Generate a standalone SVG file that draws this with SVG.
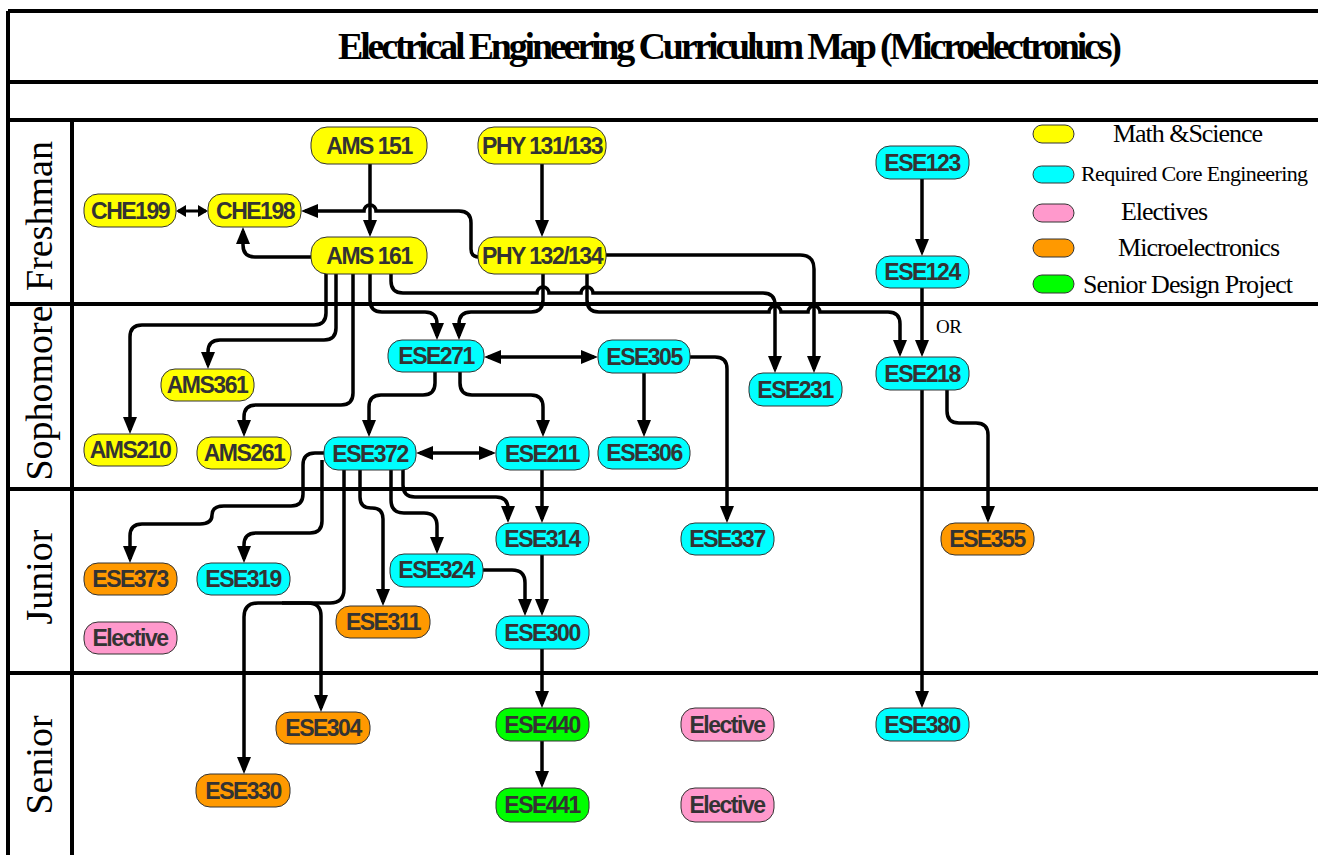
<svg xmlns="http://www.w3.org/2000/svg" width="1318" height="855" viewBox="0 0 1318 855">
<style>
.frame{stroke:#000;stroke-width:4;fill:none}
.n{stroke:#333;stroke-width:1}
.y{fill:#ffff00}.c{fill:#00ffff}.p{fill:#ff99cc}.o{fill:#ff9900}.g{fill:#00ff00}
.t{font-family:"Liberation Sans",Arial,sans-serif;font-weight:bold;font-size:23px;letter-spacing:-1.5px;fill:#333;text-anchor:middle}
.e{stroke:#000;stroke-width:3.5;fill:none;marker-end:url(#ah)}
.d{marker-start:url(#ah)}
.serif{font-family:"Liberation Serif","Times New Roman",serif;fill:#000}
.row{font-size:38px;text-anchor:middle}
.leg{font-size:26px}
</style>
<defs>
<marker id="ah" viewBox="0 0 17 14" refX="13" refY="7" markerWidth="17" markerHeight="14" markerUnits="userSpaceOnUse" orient="auto-start-reverse"><path d="M0,0 L17,7 L0,14 z" fill="#000"/></marker>
<marker id="as" viewBox="0 0 10 12" refX="8" refY="6" markerWidth="10" markerHeight="12" markerUnits="userSpaceOnUse" orient="auto-start-reverse"><path d="M0,0 L10,6 L0,12 z" fill="#000"/></marker>
</defs>
<rect width="1318" height="855" fill="#fff"/>
<g id="frame" class="frame">
<path d="M8 11 H1318 M8 11 V855 M8 82 H1318 M8 120 H1318 M8 304 H1318 M8 489 H1318 M8 673 H1318 M72 120 V855"/>
</g>
<text id="title" class="serif" x="338" y="59" font-size="38" font-weight="bold" textLength="784" lengthAdjust="spacing">Electrical Engineering Curriculum Map (Microelectronics)</text>
<g id="rows" class="serif row">
<text transform="translate(52,216) rotate(-90)">Freshman</text>
<text transform="translate(52,393) rotate(-90)">Sophomore</text>
<text transform="translate(52,577) rotate(-90)">Junior</text>
<text transform="translate(52,765) rotate(-90)">Senior</text>
</g>
<g id="legend">
<rect class="n y" x="1033" y="125" width="41" height="18" rx="9"/>
<rect class="n c" x="1033" y="166" width="41" height="17" rx="8.5"/>
<rect class="n p" x="1033" y="204" width="41" height="18" rx="9"/>
<rect class="n o" x="1033" y="239" width="41" height="18" rx="9"/>
<rect class="n g" x="1033" y="275" width="41" height="18" rx="9"/>
<text class="serif leg" x="1113" y="142" textLength="150" lengthAdjust="spacing">Math &amp;Science</text>
<text class="serif" font-size="22" x="1081" y="181" textLength="227" lengthAdjust="spacing">Required Core Engineering</text>
<text class="serif leg" x="1121" y="220" textLength="87" lengthAdjust="spacing">Electives</text>
<text class="serif leg" x="1118" y="256" textLength="162" lengthAdjust="spacing">Microelectronics</text>
<text class="serif leg" x="1083" y="293" textLength="210" lengthAdjust="spacing">Senior Design Project</text>
</g>
<g id="connectors">
<path class="e" d="M370 164 V233"/>
<path class="e" d="M542 164 V233"/>
<path class="e" d="M922 179 V252"/>
<path class="e" d="M922 288 V353"/>
<path class="e" d="M479 257 Q471 257 471 249 V223 Q471 211 459 211 H376 A6 6 0 0 0 364 211 H305"/>
<path class="e" d="M311 257 H255 Q243 257 243 245 V231"/>
<path d="M178 211 H206" stroke="#000" stroke-width="3" fill="none" marker-start="url(#as)" marker-end="url(#as)"/>
<path class="e" d="M326 262 V313 Q326 325 314 325 H142 Q130 325 130 337 V430"/>
<path class="e" d="M336 262 V328 Q336 340 324 340 H220 Q208 340 208 352 V365"/>
<path class="e" d="M353 262 V393 Q353 405 341 405 H256 Q244 405 244 417 V433"/>
<path class="e" d="M370 262 V300 Q370 312 382 312 H425 Q437 312 437 324 V336"/>
<path class="e" d="M543 262 V300 Q543 312 531 312 H471 Q459 312 459 324 V336"/>
<path class="e" d="M587 262 V300 Q587 312 599 312 H769 A6 6 0 0 1 781 312 H808 A6 6 0 0 1 820 312 H888 Q900 312 900 324 V353"/>
<path class="e" d="M391 262 V281 Q391 293 403 293 H537 A6 6 0 0 1 549 293 H581 A6 6 0 0 1 593 293 H763 Q775 293 775 305 V369"/>
<path class="e" d="M600 255 H800 Q814 255 814 269 V369"/>
<path class="e d" d="M488 357 H594"/>
<path class="e" d="M644 372 V433"/>
<path class="e" d="M690 357 H715 Q727 357 727 369 V519"/>
<path class="e" d="M435 372 V383 Q435 395 423 395 H381 Q369 395 369 407 V433"/>
<path class="e" d="M460 372 V383 Q460 395 472 395 H531 Q543 395 543 407 V433"/>
<path class="e d" d="M420 453 H492"/>
<path class="e" d="M922 390 V704"/>
<path class="e" d="M947 385 V411 Q947 423 959 423 H976 Q988 423 988 435 V519"/>
<path class="e" d="M542 470 V519"/>
<path class="e" d="M542 555 V612"/>
<path class="e" d="M483 570 H512 Q525 570 525 583 V612"/>
<path class="e" d="M542 649 V704"/>
<path class="e" d="M542 741 V784"/>
<path class="e" d="M330 453 H315 Q303 453 303 465 V494 Q303 506 291 506 H224 Q212 506 212 515 Q212 524 200 524 H142 Q130 524 130 536 V559"/>
<path class="e" d="M322 460 V521 Q322 533 310 533 H256 Q244 533 244 545 V559"/>
<path class="e" d="M344 460 V589 Q344 603 330 603 H258 Q244 603 244 617 V770"/>
<path class="e" d="M282 603 H308 Q321 603 321 616 V708"/>
<path class="e" d="M360 460 V497 Q360 508 371 508 H372 Q383 508 383 519 V602"/>
<path class="e" d="M391 460 V500 Q391 513 404 513 H424 Q437 513 437 526 V550"/>
<path class="e" d="M403 460 V485 Q403 497 415 497 H496 Q508 497 508 509 V519"/>
</g>
<text id="or" class="serif" x="936" y="333" font-size="19" textLength="26" lengthAdjust="spacing">OR</text>
<g id="AMS151"><rect class="n y" x="311" y="127" width="116" height="37" rx="16"/><text class="t" x="369" y="154">AMS 151</text></g>
<g id="PHY131"><rect class="n y" x="478" y="127" width="128" height="37" rx="16"/><text class="t" x="542" y="154">PHY 131/133</text></g>
<g id="CHE199"><rect class="n y" x="84" y="194" width="92" height="33" rx="14"/><text class="t" x="130" y="219">CHE199</text></g>
<g id="CHE198"><rect class="n y" x="208" y="194" width="93" height="33" rx="14"/><text class="t" x="255" y="219">CHE198</text></g>
<g id="AMS161"><rect class="n y" x="311" y="237" width="116" height="37" rx="16"/><text class="t" x="369" y="264">AMS 161</text></g>
<g id="PHY132"><rect class="n y" x="478" y="237" width="128" height="37" rx="16"/><text class="t" x="542" y="264">PHY 132/134</text></g>
<g id="ESE123"><rect class="n c" x="876" y="146" width="93" height="33" rx="14"/><text class="t" x="922" y="171">ESE123</text></g>
<g id="ESE124"><rect class="n c" x="876" y="256" width="93" height="32" rx="14"/><text class="t" x="922" y="280">ESE124</text></g>
<g id="ESE271"><rect class="n c" x="388" y="340" width="96" height="32" rx="14"/><text class="t" x="436" y="364">ESE271</text></g>
<g id="ESE305"><rect class="n c" x="598" y="340" width="92" height="33" rx="14"/><text class="t" x="644" y="365">ESE305</text></g>
<g id="ESE231"><rect class="n c" x="749" y="373" width="93" height="33" rx="14"/><text class="t" x="795" y="398">ESE231</text></g>
<g id="ESE218"><rect class="n c" x="876" y="357" width="93" height="33" rx="14"/><text class="t" x="922" y="382">ESE218</text></g>
<g id="AMS361"><rect class="n y" x="161" y="369" width="93" height="32" rx="14"/><text class="t" x="207" y="393">AMS361</text></g>
<g id="AMS210"><rect class="n y" x="84" y="434" width="93" height="32" rx="14"/><text class="t" x="130" y="458">AMS210</text></g>
<g id="AMS261"><rect class="n y" x="197" y="437" width="94" height="32" rx="14"/><text class="t" x="244" y="461">AMS261</text></g>
<g id="ESE372"><rect class="n c" x="324" y="437" width="92" height="33" rx="14"/><text class="t" x="370" y="462">ESE372</text></g>
<g id="ESE211"><rect class="n c" x="496" y="437" width="93" height="33" rx="14"/><text class="t" x="542" y="462">ESE211</text></g>
<g id="ESE306"><rect class="n c" x="598" y="437" width="92" height="32" rx="14"/><text class="t" x="644" y="461">ESE306</text></g>
<g id="ESE314"><rect class="n c" x="496" y="523" width="93" height="32" rx="14"/><text class="t" x="542" y="547">ESE314</text></g>
<g id="ESE337"><rect class="n c" x="681" y="523" width="93" height="32" rx="14"/><text class="t" x="727" y="547">ESE337</text></g>
<g id="ESE355"><rect class="n o" x="941" y="523" width="93" height="32" rx="14"/><text class="t" x="987" y="547">ESE355</text></g>
<g id="ESE373"><rect class="n o" x="84" y="563" width="93" height="32" rx="14"/><text class="t" x="130" y="587">ESE373</text></g>
<g id="ESE319"><rect class="n c" x="197" y="563" width="93" height="32" rx="14"/><text class="t" x="243" y="587">ESE319</text></g>
<g id="ESE324"><rect class="n c" x="390" y="554" width="93" height="33" rx="14"/><text class="t" x="436" y="578">ESE324</text></g>
<g id="ESE311"><rect class="n o" x="336" y="606" width="94" height="32" rx="14"/><text class="t" x="383" y="630">ESE311</text></g>
<g id="ElectiveJ"><rect class="n p" x="84" y="622" width="93" height="32" rx="14"/><text class="t" x="130" y="646">Elective</text></g>
<g id="ESE300"><rect class="n c" x="496" y="616" width="93" height="33" rx="14"/><text class="t" x="542" y="641">ESE300</text></g>
<g id="ESE304"><rect class="n o" x="276" y="712" width="94" height="32" rx="14"/><text class="t" x="323" y="736">ESE304</text></g>
<g id="ESE330"><rect class="n o" x="196" y="774" width="94" height="33" rx="14"/><text class="t" x="243" y="799">ESE330</text></g>
<g id="ESE440"><rect class="n g" x="496" y="708" width="93" height="33" rx="14"/><text class="t" x="542" y="733">ESE440</text></g>
<g id="ESE441"><rect class="n g" x="496" y="788" width="93" height="34" rx="14"/><text class="t" x="542" y="813">ESE441</text></g>
<g id="ElectiveS1"><rect class="n p" x="681" y="708" width="93" height="33" rx="14"/><text class="t" x="727" y="733">Elective</text></g>
<g id="ElectiveS2"><rect class="n p" x="681" y="788" width="93" height="34" rx="14"/><text class="t" x="727" y="813">Elective</text></g>
<g id="ESE380"><rect class="n c" x="876" y="708" width="93" height="33" rx="14"/><text class="t" x="922" y="733">ESE380</text></g>
</svg>
